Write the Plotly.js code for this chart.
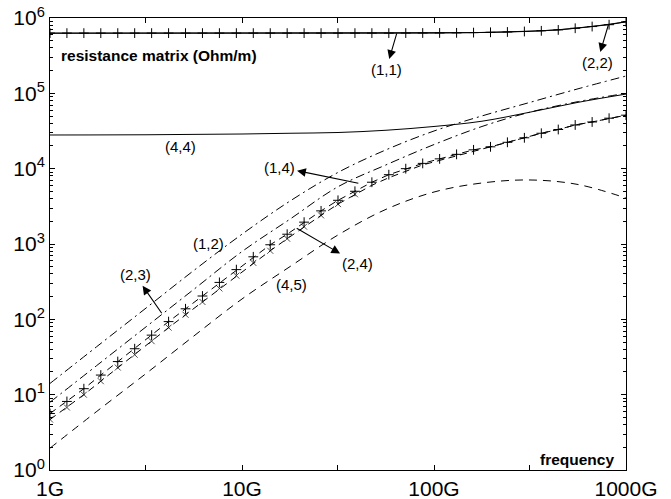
<!DOCTYPE html>
<html>
<head>
<meta charset="utf-8">
<script src="https://cdn.plot.ly/plotly-3.0.1.min.js"></script>
<style>html,body{margin:0;padding:0;background:#fff;}#chart{width:671px;height:499px;}</style>
</head>
<body>
<div id="chart"></div>
<script>
// frequency grids (GHz)
const freqMarked = [1, 1.225, 1.501, 1.839, 2.254, 2.761, 3.383, 4.146, 5.080, 6.224, 7.627, 9.346, 11.45, 14.03, 17.19, 21.06, 25.81, 31.62, 38.75, 47.48, 58.17, 71.28, 87.34, 107.0, 131.1, 160.7, 196.9, 241.2, 295.6, 362.2, 443.8, 543.8, 666.3, 816.4, 1000];
const freqCoarse = [1, 1.778, 3.162, 5.623, 10, 17.78, 31.62, 56.23, 100, 177.8, 316.2, 562.3, 1000];

// resistance matrix entries (Ohm/m)
const r11 = [630000, 630000, 630000, 630000, 630000, 630000, 630000, 630000, 630000, 630000, 630000, 630000, 630000, 630000, 630000, 630000, 630000, 630000, 630000, 630000, 630000, 631000, 632000, 633000, 635000, 640000, 646000, 652000, 662000, 676000, 695000, 731000, 770000, 815000, 890000];
const r22 = [628000, 628000, 628000, 628000, 628000, 628000, 628000, 628000, 630000, 642000, 666000, 735000, 890000];
const r44 = [27990, 28050, 28180, 28510, 28840, 29510, 30200, 32360, 36310, 42660, 56230, 75860, 97720];
const r12 = [14.1, 44.7, 141, 447, 1349, 3715, 8913, 17780, 31620, 50120, 75860, 114800, 169800];
const r23 = [7.94, 25.1, 79.4, 251, 794, 2138, 5754, 11220, 20890, 36310, 56230, 77620, 100000];
const r14 = [5.62, 8.13, 12.0, 18.2, 27.5, 40.7, 61.7, 93.3, 138, 204, 309, 457, 676, 977, 1349, 1950, 2754, 3802, 5012, 6607, 8318, 10000, 11750, 13490, 15490, 17780, 19500, 22390, 25700, 29510, 33110, 38020, 41690, 46770, 51290];
const r24 = [4.68, 6.76, 10.0, 15.1, 22.9, 33.9, 51.3, 77.6, 115, 170, 257, 380, 562, 813, 1175, 1698, 2399, 3388, 4571, 6026, 7586, 9120, 11220, 12880, 14790, 16980, 19500, 22390, 25700, 29510, 33110, 38020, 41690, 46770, 51290];
const r45 = [1.95, 6.17, 19.05, 60.26, 186.2, 501.2, 1318, 2884, 4898, 6457, 7079, 6166, 4074];

// tick labels
const xTickVals = [1, 10, 100, 1000];
const xTickText = ['1G', '10G', '100G', '1000G'];
const xHalfDecades = [3.162, 31.62, 316.2];
const yTickVals = [1, 10, 100, 1000, 10000, 100000, 1000000];
const yTickText = ['10<sup>0</sup>', '10<sup>1</sup>', '10<sup>2</sup>', '10<sup>3</sup>', '10<sup>4</sup>', '10<sup>5</sup>', '10<sup>6</sup>'];

const yMinor = [];
for (let k = 0; k < 6; k++) for (let m = 2; m <= 9; m++) yMinor.push(m * Math.pow(10, k));

const blk = '#000';
const traces = [
  {x: freqMarked, y: r11, mode: 'lines+markers', line: {color: blk, width: 1},
   marker: {symbol: 'cross-thin-open', size: 7, line: {color: blk, width: 1}}},
  {x: freqCoarse, y: r22, mode: 'lines', line: {color: blk, width: 1, shape: 'spline'}},
  {x: freqCoarse, y: r44, mode: 'lines', line: {color: blk, width: 1, shape: 'spline'}},
  {x: freqCoarse, y: r12, mode: 'lines', line: {color: blk, width: 1, shape: 'spline', dash: '9px,4px,2px,4px'}},
  {x: freqCoarse, y: r23, mode: 'lines', line: {color: blk, width: 1, shape: 'spline', dash: '9px,4px,2px,4px'}},
  {x: freqMarked, y: r14, mode: 'lines+markers', line: {color: blk, width: 1, dash: '7px,5px'},
   marker: {symbol: 'cross-thin-open', size: 7, line: {color: blk, width: 1}}},
  {x: freqMarked, y: r24, mode: 'lines+markers', line: {color: blk, width: 1, dash: '7px,5px'},
   marker: {symbol: 'x-thin-open', size: freqMarked.map((f, i) => i <= 18 ? 6 : 0), line: {color: blk, width: 1}}},
  {x: freqCoarse, y: r45, mode: 'lines', line: {color: blk, width: 1, shape: 'spline', dash: '8px,6px'}}
];

const lblFont = {family: '"Liberation Sans", Arial, Helvetica, sans-serif', size: 15, color: blk};
function label(t, u, v) {
  return {text: t, x: u, y: v, xref: 'x', yref: 'y', showarrow: false, font: lblFont, xanchor: 'center', yanchor: 'middle'};
}
// arrow from a point on a curve (tail) to the label, head drawn at the label side
function arrowLabel(t, lu, lv, tu, tv) {
  return {text: t, x: tu, y: tv, ax: lu, ay: lv, xref: 'x', yref: 'y', axref: 'x', ayref: 'y',
          showarrow: true, arrowside: 'start', startarrowhead: 2, startarrowsize: 1.6, arrowwidth: 1.1, arrowcolor: blk,
          standoff: 0, startstandoff: 1, font: lblFont};
}

const annotations = [
  arrowLabel('(1,1)', 1.75, 5.31, 1.806, 5.797),
  arrowLabel('(2,2)', 2.849, 5.403, 2.908, 5.907),
  label('(4,4)', 0.682, 4.292),
  arrowLabel('(1,4)', 1.193, 4.022, 1.606, 3.806),
  label('(1,2)', 0.823, 3.013),
  arrowLabel('(2,4)', 1.604, 2.735, 1.285, 3.209),
  label('(4,5)', 1.260, 2.469),
  arrowLabel('(2,3)', 0.443, 2.589, 0.582, 2.080),
  {text: '<b>resistance matrix (Ohm/m)</b>', xref: 'paper', yref: 'paper', x: 0.0156, y: 0.918,
   xanchor: 'left', yanchor: 'middle', showarrow: false,
   font: {family: '"Liberation Sans", Arial, Helvetica, sans-serif', size: 15.5, color: blk}},
  {text: '<b>frequency</b>', xref: 'paper', yref: 'paper', x: 0.983, y: 0.0243,
   xanchor: 'right', yanchor: 'middle', showarrow: false,
   font: {family: '"Liberation Sans", Arial, Helvetica, sans-serif', size: 15.5, color: blk}}
];

const tickFont = {family: '"Liberation Sans", Arial, Helvetica, sans-serif', size: 21, color: blk};
const layout = {
  width: 671, height: 499,
  margin: {l: 50, r: 45, t: 18, b: 29, pad: 0},
  paper_bgcolor: '#fff', plot_bgcolor: '#fff',
  showlegend: false,
  xaxis: {type: 'log', range: [0, 3], tickmode: 'array', tickvals: xTickVals, ticktext: xTickText,
          ticks: 'inside', ticklen: 5, tickwidth: 1, tickcolor: blk, showgrid: false, zeroline: false,
          showline: true, linecolor: blk, linewidth: 1, mirror: 'ticks', tickfont: tickFont,
          minor: {tickmode: 'array', tickvals: xHalfDecades, ticks: 'inside', ticklen: 5, tickwidth: 1, tickcolor: blk, showgrid: false}},
  yaxis: {type: 'log', range: [0, 6], tickmode: 'array', tickvals: yTickVals, ticktext: yTickText,
          ticks: 'inside', ticklen: 5, tickwidth: 1, tickcolor: blk, showgrid: false, zeroline: false,
          showline: true, linecolor: blk, linewidth: 1, mirror: 'ticks', tickfont: tickFont,
          minor: {tickmode: 'array', tickvals: yMinor, ticks: 'inside', ticklen: 3, tickwidth: 1, tickcolor: blk, showgrid: false}},
  annotations: annotations
};

Plotly.newPlot('chart', traces, layout, {staticPlot: true, displayModeBar: false});
</script>
</body>
</html>
